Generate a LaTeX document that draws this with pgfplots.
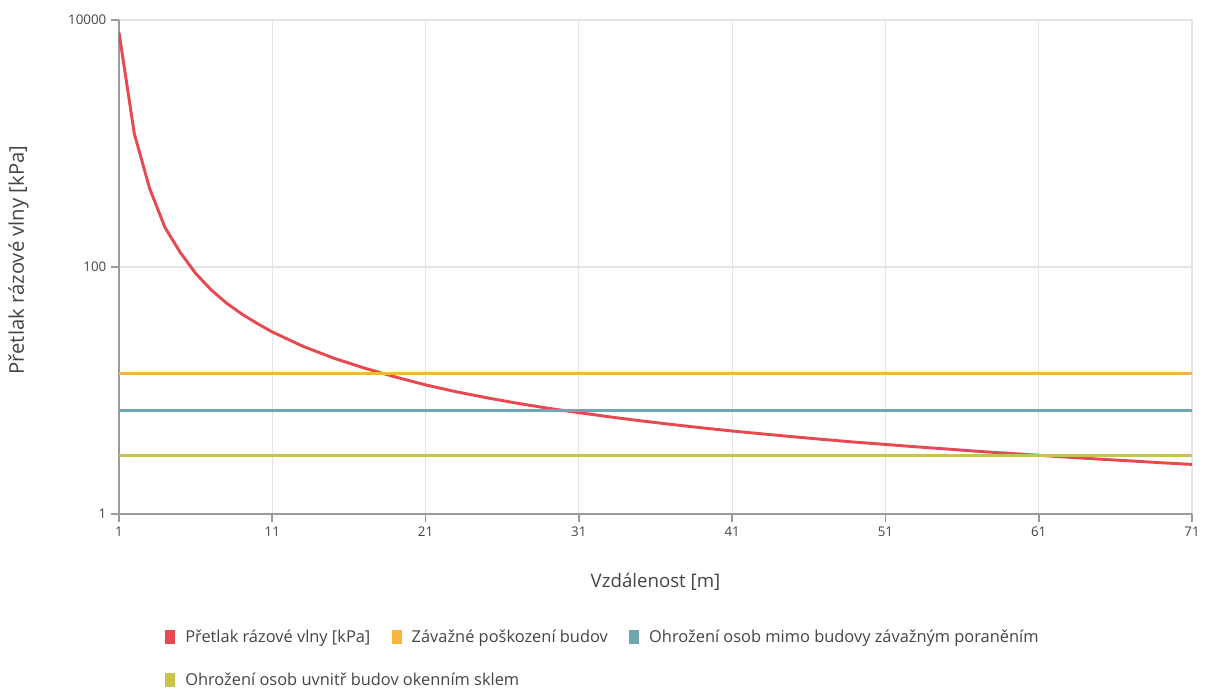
\documentclass[border=0pt]{standalone}
\usepackage{fontspec}
\setmainfont{Open Sans}
\usepackage{pgfplots}
\usepackage{pgfplotstable}
\pgfplotsset{compat=1.18}
\definecolor{cRed}{RGB}{232,72,79}
\definecolor{cOrange}{RGB}{247,181,63}
\definecolor{cTeal}{RGB}{110,168,174}
\definecolor{cOlive}{RGB}{199,196,74}
\definecolor{gridc}{RGB}{228,228,228}
\definecolor{axc}{RGB}{155,155,155}
\definecolor{txt}{RGB}{68,68,68}
\pgfplotstableread{
x y
1 7925
2 1202
3 432
4 209
5 131
6 88.8
7 65.5
8 51.2
9 41.7
10 35.0
11 29.8
13 22.8
15 18.3
17 15.2
19 12.9
21 11.1
23 9.77
25 8.73
27 7.88
29 7.18
31 6.62
33 6.12
35 5.69
37 5.32
39 4.99
41 4.70
43 4.45
45 4.22
47 4.01
49 3.82
51 3.66
53 3.50
55 3.36
57 3.22
59 3.10
61 2.99
63 2.88
65 2.78
67 2.69
69 2.60
71 2.52
}\pressure
\pgfplotstableread{
x y
1 13.8
71 13.8
}\orangeline
\pgfplotstableread{
x y
1 6.9
71 6.9
}\tealline
\pgfplotstableread{
x y
1 3.0
71 3.0
}\oliveline
\pgfplotsset{
  legsty/.style={
    legend style={at={(0,0)}, anchor=west, xshift=34.5pt, yshift=#1,
      draw=none, fill=none, inner sep=0pt,
      font=\fontsize{12.3}{14}\selectfont, text=txt,
      /tikz/every even column/.append style={column sep=14pt}},
    legend cell align=left,
    legend image code/.code={\fill[##1, draw=none] (0pt,-5.5pt) rectangle (7.5pt,5.5pt);
      \path[draw=none, fill=none] (7.5pt,0pt) -- (13pt,0pt);},
  }
}
\begin{document}
\begin{tikzpicture}
\begin{axis}[
  scale only axis, width=804.75pt, height=370.5pt,
  at={(0,0)}, anchor=south west,
  xmin=1, xmax=71, ymin=1, ymax=10000,
  ymode=log, log basis y=10,
  axis x line*=bottom, axis y line*=left,
  axis line style={axc, line width=1.5pt},
  xtick={1,11,21,31,41,51,61,71},
  xticklabels={1,11,21,31,41,51,61,71},
  ytick={1,100,10000},
  yticklabels={1,100,10000},
  yminorticks=false, minor x tick num=0,
  tick align=outside, major tick length=6pt,
  tick style={axc, line width=1.2pt},
  grid=major, major grid style={gridc, line width=0.9pt},
  ticklabel style={font=\fontsize{10}{12}\selectfont, text=txt},
  xlabel={Vzdálenost [m]},
  ylabel={Přetlak rázové vlny [kPa]},
  xlabel style={at={(axis description cs:0.5,-0.1377)}, anchor=center, font=\fontsize{14}{16}\selectfont, text=txt},
  ylabel style={at={(axis description cs:-0.0935,0.514)}, anchor=center, font=\fontsize{15.2}{17}\selectfont, text=txt},
  legsty=-92.25pt,
  legend columns=3,
]
\addplot[cRed, line width=2.2pt, sharp plot] table[x=x,y=y] {\pressure};
\addlegendentry{Přetlak rázové vlny [kPa]}
\addplot[cOrange, line width=2.2pt] table[x=x,y=y] {\orangeline};
\addlegendentry{Závažné poškození budov}
\addplot[cTeal, line width=2.2pt] table[x=x,y=y] {\tealline};
\addlegendentry{Ohrožení osob mimo budovy závažným poraněním}
\addplot[cOlive, line width=2.2pt, forget plot] table[x=x,y=y] {\oliveline};
\end{axis}
\begin{axis}[
  scale only axis, width=804.75pt, height=370.5pt,
  at={(0,0)}, anchor=south west,
  hide axis, xmin=0, xmax=1, ymin=0, ymax=1,
  legsty=-124.5pt,
]
\addlegendimage{cOlive, line width=2.2pt}
\addlegendentry{Ohrožení osob uvnitř budov okenním sklem}
\end{axis}
\pgfresetboundingbox
\path (-89.25pt,-134.25pt) rectangle (819.75pt,385.5pt);
\end{tikzpicture}
\end{document}
